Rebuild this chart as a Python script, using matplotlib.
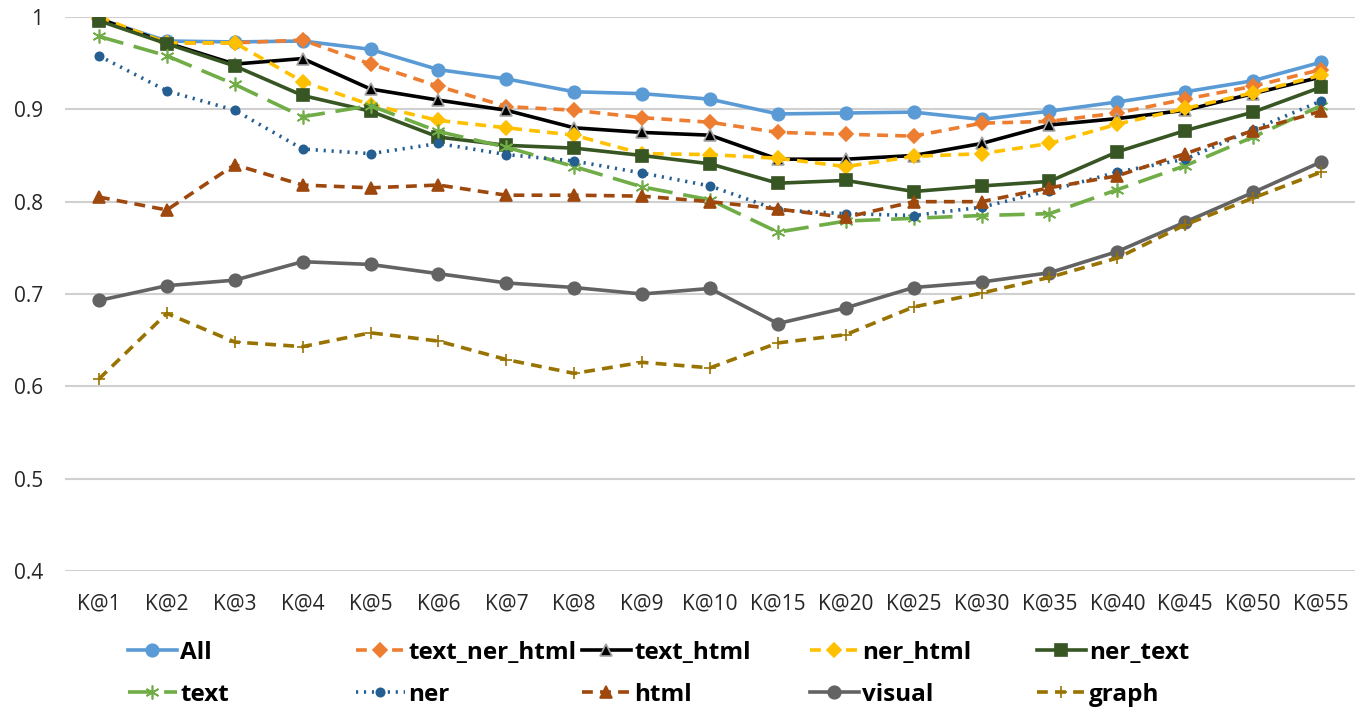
import matplotlib
matplotlib.use("Agg")
import matplotlib.pyplot as plt
from matplotlib.ticker import FuncFormatter

# categories on the x axis
k_labels = ['K@1', 'K@2', 'K@3', 'K@4', 'K@5', 'K@6', 'K@7', 'K@8', 'K@9', 'K@10',
            'K@15', 'K@20', 'K@25', 'K@30', 'K@35', 'K@40', 'K@45', 'K@50', 'K@55']

# values
all_vals = [0.998, 0.974, 0.973, 0.974, 0.965, 0.943, 0.933, 0.919, 0.917, 0.911,
            0.895, 0.896, 0.897, 0.889, 0.898, 0.908, 0.919, 0.931, 0.951]
text_ner_html = [0.998, 0.972, 0.972, 0.975, 0.949, 0.925, 0.903, 0.899, 0.891, 0.886,
                 0.875, 0.873, 0.871, 0.885, 0.887, 0.896, 0.911, 0.925, 0.943]
text_html = [0.998, 0.972, 0.949, 0.955, 0.922, 0.910, 0.899, 0.880, 0.875, 0.872,
             0.846, 0.846, 0.850, 0.863, 0.883, 0.890, 0.899, 0.917, 0.935]
ner_html = [1.0, 0.972, 0.972, 0.930, 0.905, 0.888, 0.880, 0.872, 0.852, 0.851,
            0.847, 0.838, 0.849, 0.852, 0.863, 0.884, 0.901, 0.918, 0.937]
ner_text = [0.996, 0.971, 0.947, 0.915, 0.898, 0.870, 0.861, 0.858, 0.850, 0.841,
            0.820, 0.823, 0.811, 0.817, 0.822, 0.854, 0.877, 0.897, 0.924]
text = [0.979, 0.958, 0.927, 0.892, 0.904, 0.876, 0.859, 0.838, 0.816, 0.802,
        0.767, 0.779, 0.782, 0.785, 0.787, 0.813, 0.839, 0.870, 0.904]
ner = [0.958, 0.920, 0.899, 0.857, 0.852, 0.863, 0.851, 0.844, 0.831, 0.817,
       0.791, 0.787, 0.785, 0.794, 0.812, 0.832, 0.846, 0.878, 0.909]
html = [0.805, 0.791, 0.840, 0.818, 0.815, 0.818, 0.807, 0.807, 0.806, 0.800,
        0.792, 0.783, 0.800, 0.800, 0.815, 0.828, 0.852, 0.877, 0.898]
visual = [0.693, 0.709, 0.715, 0.735, 0.732, 0.722, 0.712, 0.707, 0.700, 0.706,
          0.668, 0.685, 0.707, 0.713, 0.723, 0.746, 0.778, 0.810, 0.843]
graph = [0.608, 0.679, 0.648, 0.643, 0.658, 0.649, 0.629, 0.614, 0.626, 0.620,
         0.647, 0.656, 0.686, 0.701, 0.718, 0.739, 0.775, 0.804, 0.832]

plt.rcParams['font.family'] = ['Open Sans', 'DejaVu Sans']

fig = plt.figure(figsize=(13.6, 7.11), dpi=100)
ax = fig.add_axes([65 / 1360, 1 - 571 / 711, 1290 / 1360, 554 / 711])

x = list(range(len(k_labels)))
lw = 2.6

# series: (label, values, color, linestyle, marker, markersize, marker edge color)
series = [
    ('All', all_vals, '#5B9BD5', '-', 'o', 9, '#5B9BD5'),
    ('text_ner_html', text_ner_html, '#ED7D31', (0, (3, 2)), 'D', 7, '#ED7D31'),
    ('text_html', text_html, '#000000', '-', '^', 8, '#A5A5A5'),
    ('ner_html', ner_html, '#FFC000', (0, (3, 2)), 'D', 7, '#FFC000'),
    ('ner_text', ner_text, '#375623', '-', 's', 8, '#375623'),
    ('text', text, '#70AD47', (0, (7, 3)), (6, 2, 0), 10, '#70AD47'),
    ('ner', ner, '#255E91', (0, (0.6, 1.6)), 'o', 6, '#255E91'),
    ('html', html, '#9E480E', (0, (3, 2)), '^', 9, '#9E480E'),
    ('visual', visual, '#636363', '-', 'o', 9, '#636363'),
    ('graph', graph, '#997300', (0, (3, 2)), '+', 9, '#997300'),
]

handles = []
for label, vals, color, ls, marker, ms, mec in series:
    h, = ax.plot(x, vals, color=color, linestyle=ls, linewidth=lw, marker=marker,
                 markersize=ms, markerfacecolor=color, markeredgecolor=mec,
                 markeredgewidth=1.2, label=label)
    handles.append(h)

ax.set_xlim(-0.5, len(k_labels) - 0.5)
ax.set_ylim(0.4, 1.0)
ax.set_yticks([0.4, 0.5, 0.6, 0.7, 0.8, 0.9, 1.0])
ax.yaxis.set_major_formatter(FuncFormatter(lambda v, p: '%g' % round(v, 1)))
ax.set_xticks(x)
ax.set_xticklabels(k_labels)
ax.tick_params(axis='both', length=0, labelsize=15, colors='#262626')
ax.tick_params(axis='x', pad=16)
ax.tick_params(axis='y', pad=16)
ax.grid(axis='y', color='#D0D0D0', linewidth=1.5)
ax.set_axisbelow(True)
for s in ax.spines.values():
    s.set_visible(False)

# legend in two rows of five, placed like the original
col_x = [128, 356, 582, 810, 1037]
row_y = [653, 695]
for i, h in enumerate(handles):
    cx = col_x[i % 5]
    ry = row_y[i // 5]
    fig.legend(handles=[h], loc='center left', bbox_to_anchor=(cx / 1360, 1 - ry / 711),
               frameon=False, borderpad=0, borderaxespad=0, handlelength=2.0,
               handletextpad=0.15, numpoints=1,
               prop={'weight': 'bold', 'size': 17.5})

fig.savefig('out.png', dpi=100)
